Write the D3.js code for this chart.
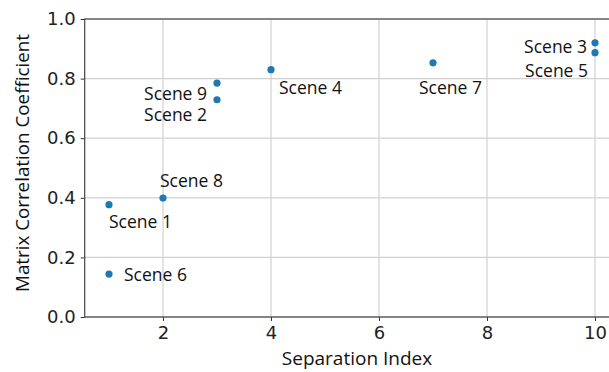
<!DOCTYPE html>
<html><head><meta charset="utf-8">
<script src="https://cdn.jsdelivr.net/npm/d3@7"></script>
<style>body{margin:0;background:#fff}svg{display:block}</style>
</head><body>
<svg id="c" width="609" height="372"></svg>
<script>
const scenes = ["Scene 1","Scene 2","Scene 3","Scene 4","Scene 5","Scene 6","Scene 7","Scene 8","Scene 9"];
const sepIndex = [1, 3, 10, 4, 10, 1, 7, 2, 3];
const corr = [0.377, 0.729, 0.920, 0.830, 0.887, 0.144, 0.853, 0.399, 0.785];
// label anchor: [anchor, dx, dy]
const labelPos = [["start",0,19],["end",-10,17],["end",-8,5],["start",8,20],["end",-7,20],["start",15,2],["start",-14,27],["start",-3,-16],["end",-10,12]];
const xTicks = [2,4,6,8,10];
const yTicks = [0.0,0.2,0.4,0.6,0.8,1.0];

const svg = d3.select("#c");
const x = d3.scaleLinear().domain([0.55,10.45]).range([84.7,619.3]);
const y = d3.scaleLinear().domain([0,1]).range([317,19]);

const g = svg.append("g");
g.selectAll(".gx").data(xTicks).join("line").attr("x1",d=>x(d)).attr("x2",d=>x(d)).attr("y1",19).attr("y2",317).attr("stroke","#d0d0d0").attr("stroke-width",1.2);
g.selectAll(".gy").data(yTicks).join("line").attr("y1",d=>y(d)).attr("y2",d=>y(d)).attr("x1",84.7).attr("x2",619.3).attr("stroke","#d0d0d0").attr("stroke-width",1.2);

const xa = svg.append("g").attr("transform","translate(0,317)").call(d3.axisBottom(x).tickValues(xTicks).tickFormat(d3.format("d")).tickSize(4).tickPadding(5));
const ya = svg.append("g").attr("transform","translate(84.7,0)").call(d3.axisLeft(y).tickValues(yTicks).tickFormat(d3.format(".1f")).tickSize(4).tickPadding(5));
[xa,ya].forEach(a=>{a.select(".domain").remove();a.selectAll("line").attr("stroke","#333");a.selectAll("text").attr("font-family","DejaVu Sans").attr("font-size","18px").attr("fill","#222");});
svg.append("rect").attr("x",84.7).attr("y",19).attr("width",534.6).attr("height",298).attr("fill","none").attr("stroke","#444").attr("stroke-width",1.2);

svg.selectAll(".pt").data(scenes).join("circle").attr("cx",(d,i)=>x(sepIndex[i])).attr("cy",(d,i)=>y(corr[i])).attr("r",3.6).attr("fill","#1f77b4");

svg.selectAll(".lb").data(scenes).join("text").text(d=>d)
  .attr("x",(d,i)=>x(sepIndex[i])+labelPos[i][1]).attr("y",(d,i)=>y(corr[i])+labelPos[i][2])
  .attr("text-anchor",(d,i)=>labelPos[i][0]).attr("dominant-baseline","middle")
  .attr("font-family","Open Sans").attr("font-size","17.5px").attr("fill","#111");

svg.append("text").text("Separation Index").attr("x",357).attr("y",360).attr("text-anchor","middle").attr("dominant-baseline","middle")
  .attr("font-family","Open Sans").attr("font-size","19px").attr("fill","#111");
svg.append("text").text("Matrix Correlation Coefficient").attr("transform","translate(24,163) rotate(-90)").attr("text-anchor","middle").attr("dominant-baseline","middle")
  .attr("font-family","Open Sans").attr("font-size","18.8px").attr("fill","#111");
</script>
</body></html>
